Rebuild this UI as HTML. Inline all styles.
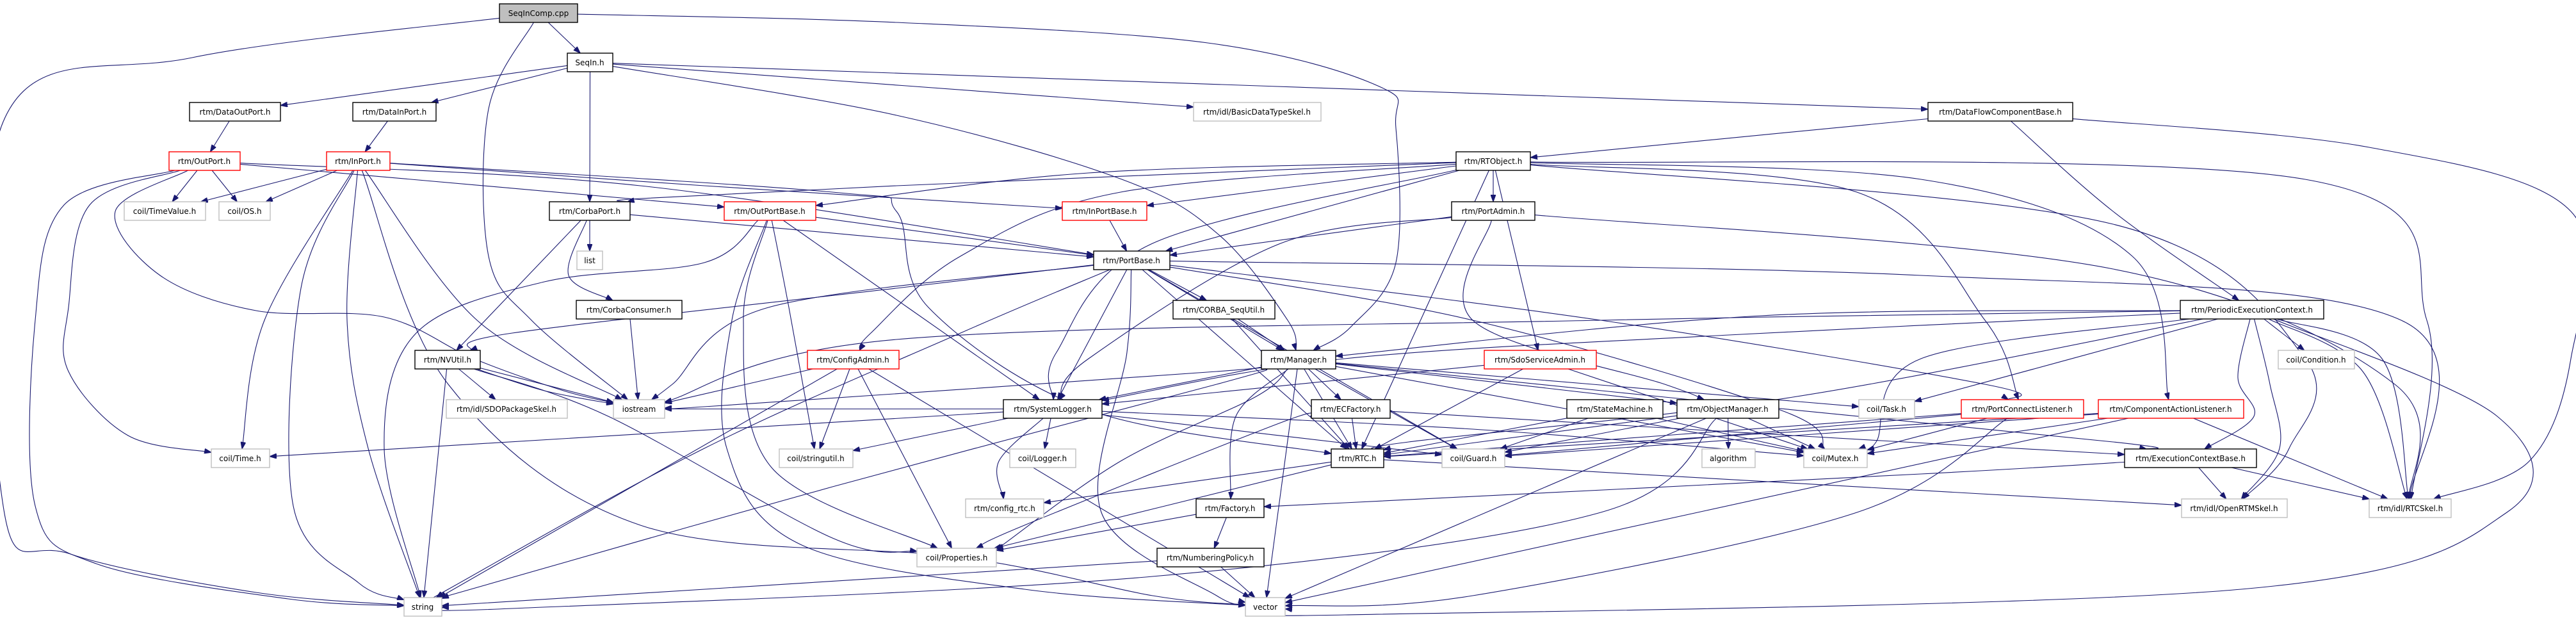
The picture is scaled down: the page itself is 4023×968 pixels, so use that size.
<!DOCTYPE html>
<html><head><meta charset="utf-8"><style>
html,body{margin:0;padding:0;background:#fff;}
svg{display:block;}
text{font-family:"DejaVu Sans","Liberation Sans",sans-serif;font-size:12px;fill:#000;}
.n rect{fill:#fff;stroke:#000;stroke-width:1.4;}
.g rect{fill:#fff;stroke:#bfbfbf;stroke-width:1.4;}
.r rect{fill:#fff;stroke:#ff0000;stroke-width:1.4;}
.root rect{fill:#bfbfbf;stroke:#000;stroke-width:1.4;}
#edges path{fill:none;stroke:#191970;stroke-width:1.1;}
</style></head><body>
<svg id="svg" width="4023" height="968" viewBox="0 0 4023 968" xmlns="http://www.w3.org/2000/svg">
<defs><marker id="ah" markerUnits="userSpaceOnUse" markerWidth="11" markerHeight="8" refX="11" refY="4" orient="auto"><path d="M0,0 L11,4 L0,8 z" fill="#191970" stroke="#191970"/></marker></defs>
<g id="edges"></g>
<g id="nodes">
<g class="root"><rect id="A" x="780" y="6" width="122" height="29"/><text x="841" y="25" text-anchor="middle">SeqInComp.cpp</text></g>
<g class="n"><rect id="B" x="886" y="83" width="71" height="29"/><text x="921" y="102" text-anchor="middle">SeqIn.h</text></g>
<g class="n"><rect id="C" x="296" y="160" width="142" height="29"/><text x="367" y="179" text-anchor="middle">rtm/DataOutPort.h</text></g>
<g class="n"><rect id="D" x="551" y="160" width="130" height="29"/><text x="616" y="179" text-anchor="middle">rtm/DataInPort.h</text></g>
<g class="g"><rect id="E" x="1864" y="160" width="199" height="29"/><text x="1963" y="179" text-anchor="middle">rtm/idl/BasicDataTypeSkel.h</text></g>
<g class="n"><rect id="F" x="3011" y="160" width="226" height="29"/><text x="3124" y="179" text-anchor="middle">rtm/DataFlowComponentBase.h</text></g>
<g class="r"><rect id="G" x="264" y="237" width="111" height="29"/><text x="319" y="256" text-anchor="middle">rtm/OutPort.h</text></g>
<g class="r"><rect id="H" x="510" y="237" width="99" height="29"/><text x="559" y="256" text-anchor="middle">rtm/InPort.h</text></g>
<g class="n"><rect id="I" x="2274" y="237" width="116" height="29"/><text x="2332" y="256" text-anchor="middle">rtm/RTObject.h</text></g>
<g class="g"><rect id="J" x="194" y="315" width="127" height="29"/><text x="257" y="334" text-anchor="middle">coil/TimeValue.h</text></g>
<g class="g"><rect id="K" x="342" y="315" width="80" height="29"/><text x="382" y="334" text-anchor="middle">coil/OS.h</text></g>
<g class="n"><rect id="L" x="858" y="315" width="126" height="29"/><text x="921" y="334" text-anchor="middle">rtm/CorbaPort.h</text></g>
<g class="r"><rect id="M" x="1131" y="315" width="143" height="29"/><text x="1202" y="334" text-anchor="middle">rtm/OutPortBase.h</text></g>
<g class="r"><rect id="N" x="1659" y="315" width="132" height="29"/><text x="1725" y="334" text-anchor="middle">rtm/InPortBase.h</text></g>
<g class="n"><rect id="O" x="2267" y="315" width="130" height="29"/><text x="2332" y="334" text-anchor="middle">rtm/PortAdmin.h</text></g>
<g class="g"><rect id="P" x="901" y="392" width="40" height="29"/><text x="921" y="411" text-anchor="middle">list</text></g>
<g class="n"><rect id="Q" x="1708" y="392" width="119" height="29"/><text x="1767" y="411" text-anchor="middle">rtm/PortBase.h</text></g>
<g class="n"><rect id="R" x="900" y="469" width="165" height="29"/><text x="982" y="488" text-anchor="middle">rtm/CorbaConsumer.h</text></g>
<g class="n"><rect id="S" x="1832" y="469" width="159" height="29"/><text x="1911" y="488" text-anchor="middle">rtm/CORBA_SeqUtil.h</text></g>
<g class="n"><rect id="T" x="3405" y="469" width="224" height="29"/><text x="3517" y="488" text-anchor="middle">rtm/PeriodicExecutionContext.h</text></g>
<g class="n"><rect id="U" x="648" y="547" width="102" height="29"/><text x="699" y="566" text-anchor="middle">rtm/NVUtil.h</text></g>
<g class="r"><rect id="V" x="1261" y="547" width="143" height="29"/><text x="1332" y="566" text-anchor="middle">rtm/ConfigAdmin.h</text></g>
<g class="n"><rect id="W" x="1970" y="547" width="116" height="29"/><text x="2028" y="566" text-anchor="middle">rtm/Manager.h</text></g>
<g class="r"><rect id="X" x="2318" y="547" width="175" height="29"/><text x="2405" y="566" text-anchor="middle">rtm/SdoServiceAdmin.h</text></g>
<g class="g"><rect id="Y" x="3558" y="547" width="119" height="29"/><text x="3617" y="566" text-anchor="middle">coil/Condition.h</text></g>
<g class="g"><rect id="Z" x="697" y="624" width="189" height="29"/><text x="791" y="643" text-anchor="middle">rtm/idl/SDOPackageSkel.h</text></g>
<g class="g"><rect id="io" x="958" y="624" width="80" height="29"/><text x="998" y="643" text-anchor="middle">iostream</text></g>
<g class="n"><rect id="sl" x="1567" y="624" width="154" height="29"/><text x="1644" y="643" text-anchor="middle">rtm/SystemLogger.h</text></g>
<g class="n"><rect id="ecf" x="2048" y="624" width="123" height="29"/><text x="2109" y="643" text-anchor="middle">rtm/ECFactory.h</text></g>
<g class="n"><rect id="sm" x="2447" y="624" width="150" height="29"/><text x="2522" y="643" text-anchor="middle">rtm/StateMachine.h</text></g>
<g class="n"><rect id="om" x="2619" y="624" width="159" height="29"/><text x="2698" y="643" text-anchor="middle">rtm/ObjectManager.h</text></g>
<g class="g"><rect id="task" x="2903" y="624" width="87" height="29"/><text x="2946" y="643" text-anchor="middle">coil/Task.h</text></g>
<g class="r"><rect id="pcl" x="3063" y="624" width="191" height="29"/><text x="3158" y="643" text-anchor="middle">rtm/PortConnectListener.h</text></g>
<g class="r"><rect id="cal" x="3277" y="624" width="227" height="29"/><text x="3390" y="643" text-anchor="middle">rtm/ComponentActionListener.h</text></g>
<g class="g"><rect id="time" x="330" y="701" width="91" height="29"/><text x="375" y="720" text-anchor="middle">coil/Time.h</text></g>
<g class="g"><rect id="su" x="1217" y="701" width="115" height="29"/><text x="1274" y="720" text-anchor="middle">coil/stringutil.h</text></g>
<g class="g"><rect id="lg" x="1577" y="701" width="103" height="29"/><text x="1628" y="720" text-anchor="middle">coil/Logger.h</text></g>
<g class="n"><rect id="rtc" x="2079" y="701" width="82" height="29"/><text x="2120" y="720" text-anchor="middle">rtm/RTC.h</text></g>
<g class="g"><rect id="guard" x="2252" y="701" width="98" height="29"/><text x="2301" y="720" text-anchor="middle">coil/Guard.h</text></g>
<g class="g"><rect id="alg" x="2658" y="701" width="83" height="29"/><text x="2699" y="720" text-anchor="middle">algorithm</text></g>
<g class="g"><rect id="mutex" x="2817" y="701" width="99" height="29"/><text x="2866" y="720" text-anchor="middle">coil/Mutex.h</text></g>
<g class="n"><rect id="ecb" x="3318" y="701" width="206" height="29"/><text x="3421" y="720" text-anchor="middle">rtm/ExecutionContextBase.h</text></g>
<g class="g"><rect id="crtc" x="1508" y="779" width="122" height="29"/><text x="1569" y="798" text-anchor="middle">rtm/config_rtc.h</text></g>
<g class="n"><rect id="fac" x="1868" y="779" width="106" height="29"/><text x="1921" y="798" text-anchor="middle">rtm/Factory.h</text></g>
<g class="g"><rect id="ort" x="3407" y="779" width="165" height="29"/><text x="3489" y="798" text-anchor="middle">rtm/idl/OpenRTMSkel.h</text></g>
<g class="g"><rect id="rsk" x="3700" y="779" width="128" height="29"/><text x="3764" y="798" text-anchor="middle">rtm/idl/RTCSkel.h</text></g>
<g class="g"><rect id="prop" x="1432" y="856" width="124" height="29"/><text x="1494" y="875" text-anchor="middle">coil/Properties.h</text></g>
<g class="n"><rect id="np" x="1807" y="856" width="167" height="29"/><text x="1890" y="875" text-anchor="middle">rtm/NumberingPolicy.h</text></g>
<g class="g"><rect id="str" x="631" y="933" width="59" height="29"/><text x="660" y="952" text-anchor="middle">string</text></g>
<g class="g"><rect id="vec" x="1945" y="933" width="62" height="29"/><text x="1976" y="952" text-anchor="middle">vector</text></g>
</g>
</svg>
<script>
(function(){
var E=[
['A','B'],['A','str',[[300,90],[5,190],[5,790],[110,865],[400,925]]],['A','io',[[763,170],[763,400],[830,500]]],
['A','W',[[1400,35],[1886,67],[2154,135],[2180,200],[2180,410],[2110,510]]],
['B','C'],['B','D'],['B','L'],['B','E'],['B','F'],['B','W',[[1400,180],[1752,280],[1904,367],[2011,500]]],
['C','G'],['D','H'],
['G','J'],['G','K'],['G','M'],['G','Q',[[1000,290]]],
['G','str',[[100,320],[55,500],[55,790],[150,880],[450,935]]],
['G','time',[[140,320],[107,480],[107,580],[200,680]]],
['G','io',[[180,330],[250,430],[400,485],[600,495],[740,560],[880,610]]],
['H','J'],['H','K'],['H','N',[[1100,290]]],['H','time',[[413,500]]],
['H','str',[[470,450],[458,790],[560,910]]],['H','str',[[542,500],[575,700]]],['H','io',[[745,500]]],
['H','vec',[[700,600],[1000,820],[1500,870],[1800,930]]],
['H','rtc',[[1300,300],[1400,330],[1450,480],[1700,640]]],
['F','I'],['F','T',[[3300,330]]],['F','rsk',[[3700,230],[4015,330],[4015,560],[3950,720]]],
['I','Q'],['I','N'],['I','M',[[1700,270]]],['I','L',[[1400,290],[1000,310]]],['I','O'],
['I','V',[[1750,300],[1500,400],[1360,520]]],['I','X'],['I','rtc'],['I','sl',[[1800,380],[1650,550]]],
['I','pcl',[[2900,300],[3100,500]]],['I','cal',[[3000,280],[3330,400]]],['I','ort',[[3300,350],[3600,560],[3575,700]]],
['I','rsk',[[3600,280],[3790,500]]],
['O','Q'],['O','sl',[[2000,380],[1700,560]]],['O','om',[[2300,500],[2600,600]]],['O','rsk',[[3300,420],[3740,600]]],
['N','Q'],['M','Q'],['M','str',[[1100,410],[850,440],[650,520],[600,700]]],
['M','vec',[[1143,500],[1135,700],[1250,850],[1600,920]]],['M','prop',[[1161,500],[1205,730]]],['M','su',[[1232,480]]],['M','sl'],
['L','P'],['L','R',[[888,430]]],['L','U'],['L','Q'],['R','io'],
['Q','io',[[1200,480],[1050,600]]],['Q','sl'],['Q','U',[[1400,450],[800,520]]],['Q','rtc'],['Q','guard'],['Q','S'],
['Q','pcl',[[2500,500],[3100,600]]],['Q','rsk',[[3000,430],[3750,500]]],['Q','mutex',[[2300,500],[2780,640]]],['Q','W'],
['Q','vec',[[1760,550],[1720,800],[1900,930]]],['Q','str',[[1500,520],[1100,700],[700,920]]],
['S','W'],['S','rtc'],
['T','W',[[2750,493]]],['T','io',[[2500,500],[1400,530]]],['T','task'],['T','mutex',[[3000,560],[2930,690]]],['T','Y'],
['T','ecb',[[3495,590],[3520,650]]],['T','ort',[[3545,600],[3560,700]]],['T','rsk',[[3690,580]]],['T','rsk',[[3720,560]]],
['T','vec',[[3900,650],[3915,800],[3500,920],[2100,960]]],['T','rtc',[[2800,620],[2200,690]]],['T','sl',[[2700,523],[2100,560]]],
['W','sl'],['W','ecf'],['W','rtc'],['W','guard'],['W','fac',[[1930,650]]],['W','vec'],['W','om'],['W','task'],['W','mutex'],
['W','ecb',[[2600,620],[3300,690]]],['W','str',[[1900,600],[1300,760],[700,930]]],['W','io',[[1900,580],[1100,635]]],
['W','prop',[[1960,620],[1750,720],[1560,855]]],
['X','sl'],['X','mutex'],['X','rtc'],
['ecf','rtc'],['ecf','ecb',[[2800,680]]],['ecf','prop',[[2000,660],[1600,820]]],
['sm','rtc'],['sm','guard'],['sm','mutex'],
['om','rtc'],['om','guard'],['om','mutex'],['om','alg'],['om','vec'],['om','str',[[2500,800],[1800,900],[800,950]]],
['pcl','rtc'],['pcl','guard'],['pcl','mutex'],['pcl','vec',[[2900,800],[2300,930]]],
['cal','rtc'],['cal','guard'],['cal','mutex'],['cal','rsk'],['cal','vec'],
['sl','time'],['sl','lg'],['sl','crtc',[[1560,720]]],['sl','su'],['sl','guard'],['sl','mutex',[[2300,670]]],['sl','io'],
['V','io'],['V','str'],['V','su'],['V','prop'],['V','vec'],
['U','Z'],['U','io'],['U','io',[[850,610]]],['U','str'],['U','prop',[[950,650],[1300,840]]],
['rtc','crtc'],['rtc','prop'],['rtc','ort'],
['ecb','ort'],['ecb','rsk'],['ecb','fac',[[3000,740],[2100,785]]],
['fac','prop'],['fac','np'],['np','str'],['np','vec']
];
function box(id){var r=document.getElementById(id);return {x:+r.getAttribute('x'),y:+r.getAttribute('y'),w:+r.getAttribute('width'),h:+r.getAttribute('height')};}
function clip(b,tx,ty){var cx=b.x+b.w/2,cy=b.y+b.h/2,dx=tx-cx,dy=ty-cy;if(!dx&&!dy)return[cx,cy];
var sx=dx?(b.w/2)/Math.abs(dx):1e9,sy=dy?(b.h/2)/Math.abs(dy):1e9,s=Math.min(sx,sy);return[cx+dx*s,cy+dy*s];}
var g=document.getElementById('edges'),NS='http://www.w3.org/2000/svg';
E.forEach(function(e){var a=box(e[0]),b=box(e[1]),w=e[2]||[];
var bc=[b.x+b.w/2,b.y+b.h/2],ac=[a.x+a.w/2,a.y+a.h/2];
var f=w.length?w[0]:bc,l=w.length?w[w.length-1]:ac;
var p=[clip(a,f[0],f[1])].concat(w).concat([clip(b,l[0],l[1])]);
var d='M'+p[0][0].toFixed(1)+','+p[0][1].toFixed(1);
for(var i=0;i<p.length-1;i++){var p0=p[i-1]||p[i],p1=p[i],p2=p[i+1],p3=p[i+2]||p[i+1];
var c1=[p1[0]+(p2[0]-p0[0])/6,p1[1]+(p2[1]-p0[1])/6],c2=[p2[0]-(p3[0]-p1[0])/6,p2[1]-(p3[1]-p1[1])/6];
d+=' C'+c1[0].toFixed(1)+','+c1[1].toFixed(1)+' '+c2[0].toFixed(1)+','+c2[1].toFixed(1)+' '+p2[0].toFixed(1)+','+p2[1].toFixed(1);}
var el=document.createElementNS(NS,'path');el.setAttribute('d',d);el.setAttribute('marker-end','url(#ah)');g.appendChild(el);});
})();
</script>
</body></html>
